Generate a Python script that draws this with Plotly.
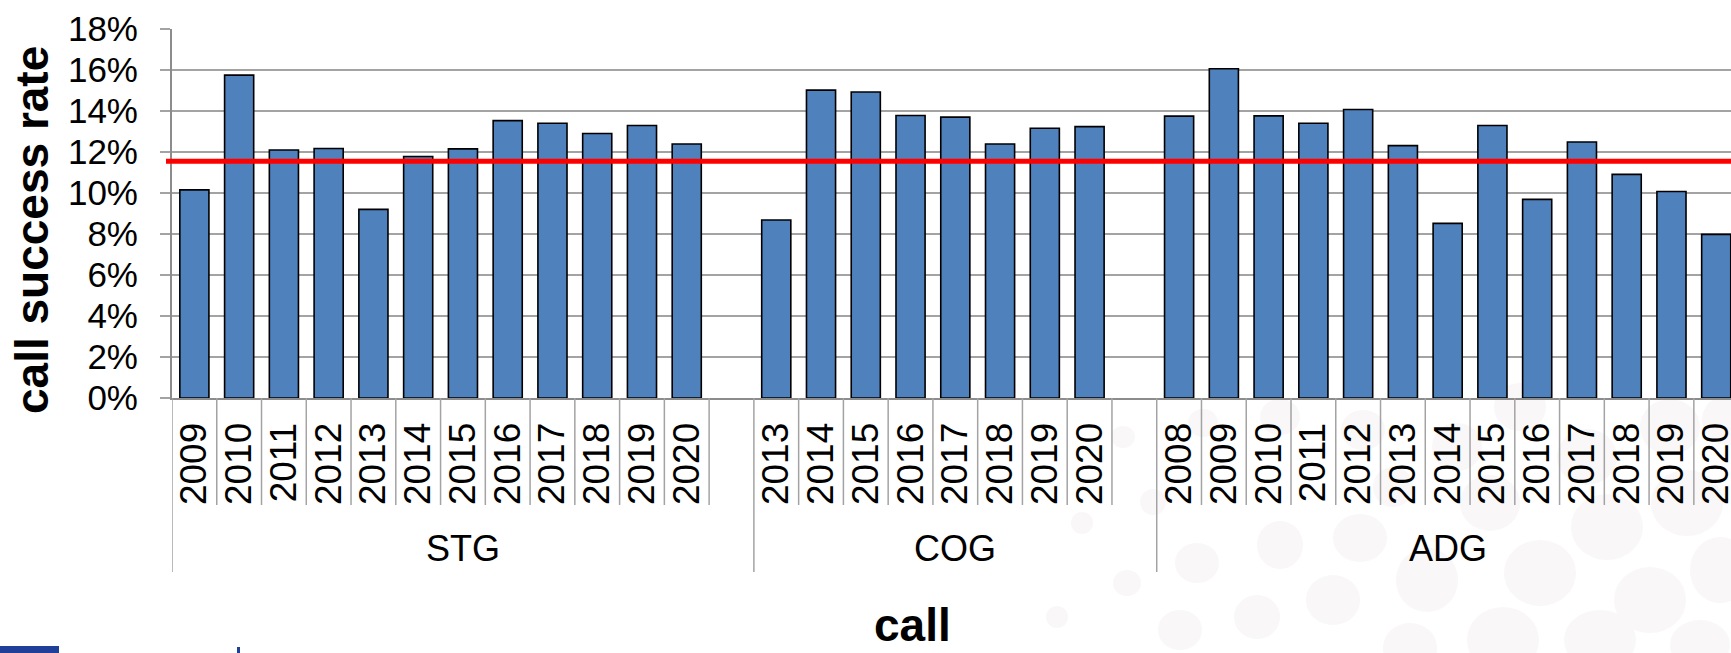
import plotly.graph_objects as go

# ---------------- data ----------------
groups = ["STG", "COG", "ADG"]
stg_years = ["2009", "2010", "2011", "2012", "2013", "2014", "2015", "2016", "2017", "2018", "2019", "2020"]
stg_rates = [10.15, 15.75, 12.1, 12.17, 9.2, 11.78, 12.15, 13.53, 13.4, 12.9, 13.29, 12.39]
cog_years = ["2013", "2014", "2015", "2016", "2017", "2018", "2019", "2020"]
cog_rates = [8.68, 15.02, 14.93, 13.78, 13.7, 12.39, 13.16, 13.24]
adg_years = ["2008", "2009", "2010", "2011", "2012", "2013", "2014", "2015", "2016", "2017", "2018", "2019", "2020"]
adg_rates = [13.75, 16.06, 13.76, 13.4, 14.07, 12.31, 8.52, 13.29, 9.69, 12.49, 10.91, 10.07, 7.98]
average_rate = 11.55
y_ticks = [0, 2, 4, 6, 8, 10, 12, 14, 16, 18]
y_ticklabels = [f"{v}%" for v in y_ticks]

group_years = [stg_years, cog_years, adg_years]
group_rates = [stg_rates, cog_rates, adg_rates]
gap_after = [True, True, False]   # empty slot closing each group

# ---------------- build positions ----------------
xs, ys, tickvals, ticktext = [], [], [], []
group_bounds = []   # (start, end) slot indices
pos = 0
for yrs, rates, gap in zip(group_years, group_rates, gap_after):
    start = pos
    for yr, r in zip(yrs, rates):
        xs.append(pos)
        ys.append(r)
        tickvals.append(pos)
        ticktext.append(yr)
        pos += 1
    if gap:
        pos += 1
    group_bounds.append((start, pos))
n_slots = pos

FONT = "Liberation Sans, Arial, sans-serif"
GRID = "#A3A3A3"

fig = go.Figure()
fig.add_trace(go.Bar(
    x=xs, y=ys, width=0.65,
    marker=dict(color="#4F81BD", line=dict(color="#000000", width=1.6)),
    hoverinfo="x+y", showlegend=False,
))

# ---------------- layout geometry ----------------
W, H = 1731, 653
ML, MT, MB, MR = 172, 29, 255, 0
PW, PH = W - ML - MR, H - MT - MB

def px_x(px):
    return (px - ML) / PW

def px_y(py):
    return (H - MB - py) / PH

shapes = []

# decorative faint ellipses (background)
decor = [
    (1123, 437, 12, 11), (1153, 502, 13, 13), (1082, 523, 11, 11), (1197, 563, 22, 20),
    (1280, 545, 23, 24), (1360, 538, 27, 24), (1127, 583, 14, 13), (1057, 617, 11, 11),
    (1180, 630, 22, 20), (1257, 617, 23, 22), (1333, 600, 27, 25), (1427, 580, 31, 32),
    (1393, 487, 20, 20), (1363, 430, 22, 20), (1280, 417, 20, 18), (1203, 423, 15, 14),
    (1540, 573, 36, 33), (1607, 527, 36, 33), (1687, 503, 36, 33), (1503, 640, 36, 33),
    (1410, 648, 27, 25), (1490, 503, 30, 28), (1587, 457, 30, 28), (1670, 427, 30, 28),
    (1520, 407, 26, 24), (1457, 447, 25, 24), (1727, 420, 25, 25), (1650, 600, 36, 33),
    (1720, 570, 30, 33), (1600, 640, 36, 30), (1700, 645, 30, 25),
]
for cx, cy, rx, ry in decor:
    shapes.append(dict(type="circle", xref="paper", yref="paper", layer="below",
                       x0=px_x(cx - rx), x1=px_x(cx + rx), y0=px_y(cy + ry), y1=px_y(cy - ry),
                       fillcolor="#F9F7F7", line=dict(width=0)))

# EU logo fragments bottom-left
shapes.append(dict(type="rect", xref="paper", yref="paper", layer="below",
                   x0=px_x(0), x1=px_x(59), y0=px_y(653), y1=px_y(646),
                   fillcolor="#1F3F99", line=dict(width=0)))
shapes.append(dict(type="rect", xref="paper", yref="paper", layer="below",
                   x0=px_x(237), x1=px_x(240), y0=px_y(653), y1=px_y(647),
                   fillcolor="#1F3F99", line=dict(width=0)))

# category divider lines below the axis
group_edges = set()
for s, e in group_bounds:
    group_edges.add(s)
    group_edges.add(e)
for b in range(0, n_slots + 1):
    y_end = px_y(572) if b in group_edges else px_y(505)
    shapes.append(dict(type="line", xref="x", yref="paper",
                       x0=b - 0.5, x1=b - 0.5, y0=0, y1=y_end,
                       line=dict(color=GRID, width=1.5)))

# average line
shapes.append(dict(type="line", xref="paper", yref="y",
                   x0=px_x(166), x1=1.0, y0=average_rate, y1=average_rate,
                   line=dict(color="#FF0000", width=5)))

annotations = []
for g, (s, e) in zip(groups, group_bounds):
    annotations.append(dict(text=g, xref="x", yref="paper", x=(s + e - 1) / 2, y=px_y(548),
                            showarrow=False, xanchor="center", yanchor="middle",
                            font=dict(family=FONT, size=36, color="#000000")))
annotations.append(dict(text="<b>call</b>", xref="paper", yref="paper", x=px_x(912), y=px_y(653),
                        showarrow=False, xanchor="center", yanchor="bottom",
                        font=dict(family=FONT, size=46, color="#000000")))
annotations.append(dict(text="<b>call success rate</b>", xref="paper", yref="paper",
                        x=px_x(32), y=px_y(230), textangle=-90,
                        showarrow=False, xanchor="center", yanchor="middle",
                        font=dict(family=FONT, size=46, color="#000000")))

fig.update_layout(
    width=W, height=H,
    margin=dict(l=ML, r=MR, t=MT, b=MB, pad=0),
    paper_bgcolor="#FFFFFF", plot_bgcolor="rgba(0,0,0,0)",
    font=dict(family=FONT, color="#000000"),
    shapes=shapes, annotations=annotations,
    bargap=0.35,
    xaxis=dict(
        range=[-0.5, -0.5 + PW / 44.76], tickmode="array", tickvals=tickvals, ticktext=ticktext,
        tickangle=-90, tickfont=dict(family=FONT, size=37, color="#000000"),
        ticks="", showgrid=False, zeroline=False,
        showline=True, linecolor="#8C8C8C", linewidth=2,
        ticklabelstandoff=8, ticklabeloverflow="allow", automargin=False, fixedrange=True,
    ),
    yaxis=dict(
        range=[0, 18], tickmode="array", tickvals=y_ticks, ticktext=y_ticklabels,
        tickfont=dict(family=FONT, size=35, color="#000000"),
        ticks="outside", ticklen=10, tickwidth=1.5, tickcolor=GRID,
        showgrid=True, gridcolor=GRID, gridwidth=1.5, zeroline=False,
        showline=True, linecolor="#8C8C8C", linewidth=2,
        ticklabelstandoff=15, automargin=False, fixedrange=True,
    ),
)

fig.write_html(
    "out.html",
    config={"displayModeBar": False},
    post_script="document.body.style.margin='0';document.body.style.overflow='hidden';",
)
